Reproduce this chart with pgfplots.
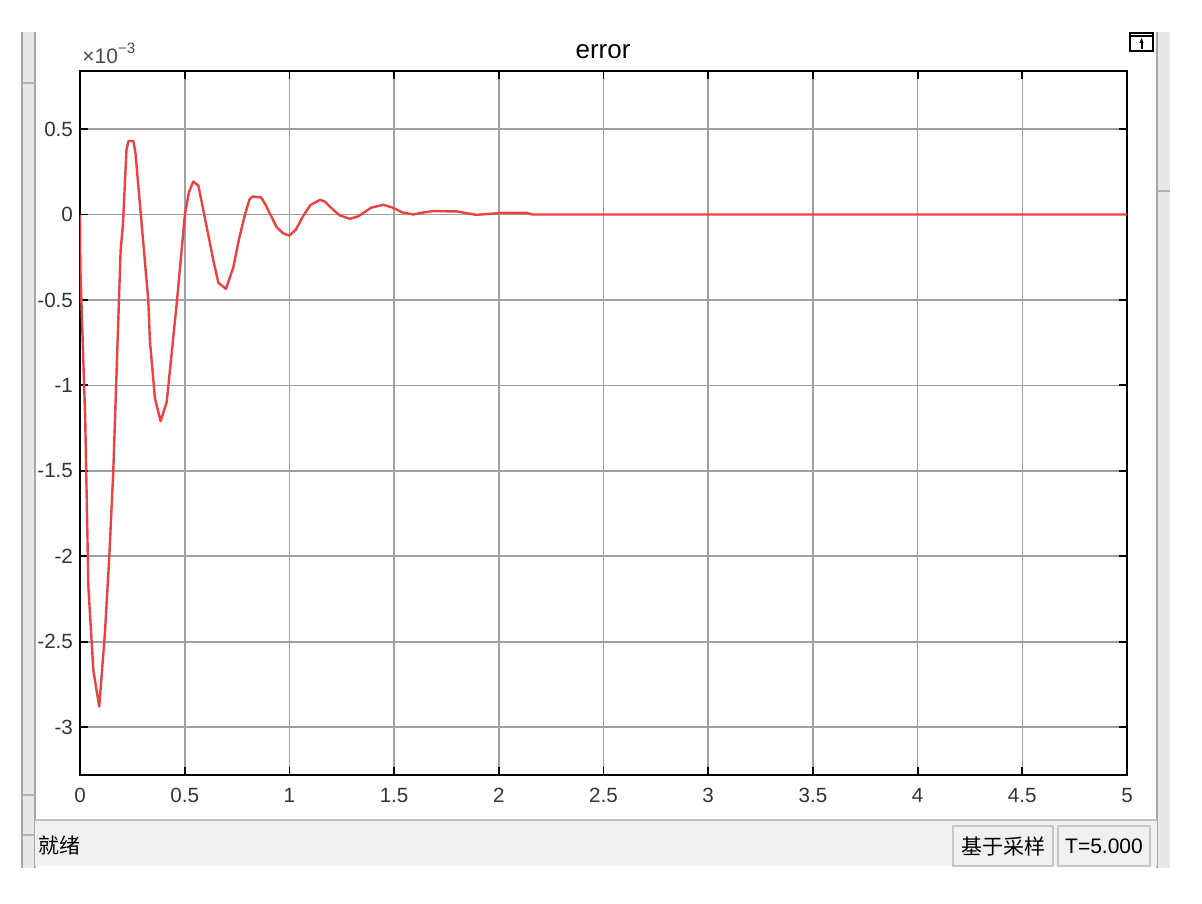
\documentclass[border=0pt]{standalone}
\usepackage{pgfplots}
\pgfplotsset{compat=1.18}
\usetikzlibrary{arrows.meta}
\usepackage{fontspec}
\setmainfont{Liberation Sans}
\newfontfamily\cjk{Noto Sans CJK SC}
\definecolor{errred}{RGB}{232,66,66}
\definecolor{gridgray}{RGB}{160,160,160}
\definecolor{barbg}{RGB}{240,240,240}
\pgfplotstableread{
t e
0 0
0.002 -0.33
0.025 -1.2
0.04 -2.18
0.064 -2.67
0.092 -2.88
0.119 -2.45
0.14 -2.0
0.159 -1.5
0.194 -0.21
0.205 -0.06
0.222 0.38
0.232 0.43
0.255 0.43
0.265 0.36
0.326 -0.50
0.334 -0.74
0.358 -1.076
0.385 -1.209
0.414 -1.098
0.462 -0.52
0.501 0
0.52 0.13
0.541 0.193
0.565 0.17
0.59 0.02
0.637 -0.269
0.661 -0.40
0.697 -0.435
0.732 -0.31
0.76 -0.14
0.788 0
0.810 0.09
0.825 0.105
0.865 0.10
0.885 0.06
0.939 -0.074
0.97 -0.11
1.0 -0.123
1.03 -0.09
1.067 -0.006
1.10 0.055
1.146 0.086
1.17 0.075
1.194 0.045
1.24 -0.005
1.289 -0.025
1.33 -0.01
1.39 0.04
1.449 0.057
1.496 0.039
1.54 0.012
1.592 0
1.64 0.012
1.687 0.02
1.799 0.018
1.894 -0.002
2.02 0.01
2.133 0.01
2.16 0
5 0
}\errdata
\begin{document}
\begin{tikzpicture}[x=0.5pt,y=0.5pt]
\fill[white] (0,0) rectangle (1202,903);
% left strip (window behind)
\fill[gray!18] (22,35) rectangle (35,871);
\draw[gray!70,line width=0.6pt] (22,35) -- (22,871);
\draw[gray!70,line width=0.6pt] (35,35) -- (35,871);
\draw[gray!60,line width=1pt] (22,820) -- (35,820);
\draw[gray!60,line width=1pt] (22,108) -- (35,108);
\draw[gray!60,line width=1pt] (22,68) -- (35,68);
% right strip
\fill[gray!18] (1157,35) rectangle (1170,871);
\draw[gray!70,line width=0.8pt] (1157,35) -- (1157,871);
\draw[gray!60,line width=1pt] (1157,712) -- (1170,712);
% status bar
\fill[barbg] (35,37) rectangle (1157,83);
\draw[gray!50,line width=1pt] (35,83) -- (1157,83);
\node[anchor=west,inner sep=0pt,font=\cjk\fontsize{10.5}{12}\selectfont] at (38,57) {就绪};
\draw[gray!45,line width=0.8pt,fill=barbg] (953,37) rectangle (1053,77);
\node[inner sep=0pt,font=\cjk\fontsize{10.5}{12}\selectfont] at (1003,57) {基于采样};
\draw[gray!45,line width=0.8pt,fill=barbg] (1058,37) rectangle (1150,77);
\node[inner sep=0pt,font=\fontsize{10.5}{12}\selectfont] at (1104,57) {T=5.000};
% icon top-right
\draw[black,line width=0.9pt,fill=white] (1130,852) rectangle (1153,870);
\draw[black,line width=0.9pt] (1130,867) -- (1153,867);
\draw[black,line width=1pt,-{Latex[length=3pt]}] (1141.5,854) -- (1141.5,866);
% title and exponent
\node[font=\fontsize{13}{15}\selectfont] at (603,851) {error};
\node[anchor=base west,inner sep=0pt,font=\fontsize{10.5}{12}\selectfont,text=black!70] at (82,839) {×10\raisebox{5pt}{\fontsize{7.5}{9}\selectfont −3}};
\begin{axis}[
  at={(40pt,64pt)}, anchor=south west,
  width=523.5pt, height=352pt, scale only axis,
  xmin=0, xmax=5, ymin=-3.28, ymax=0.84,
  xtick={0,0.5,...,5}, ytick={-3,-2.5,...,0.5},
  xticklabels={0,0.5,1,1.5,2,2.5,3,3.5,4,4.5,5},
  yticklabels={-3,-2.5,-2,-1.5,-1,-0.5,0,0.5},
  tick align=inside, major tick length=4pt,
  tick style={black,line width=0.9pt},
  grid=major, grid style={gridgray,line width=0.8pt},
  axis line style={black,line width=1pt},
  ticklabel style={font=\fontsize{10.3}{12}\selectfont, text=black!80},
  xticklabel style={yshift=-3pt},
  axis background/.style={fill=white},
]
\addplot[errred, line width=1.2pt, no markers, line join=round] table[x=t,y=e] {\errdata};
\end{axis}
\end{tikzpicture}
\end{document}
